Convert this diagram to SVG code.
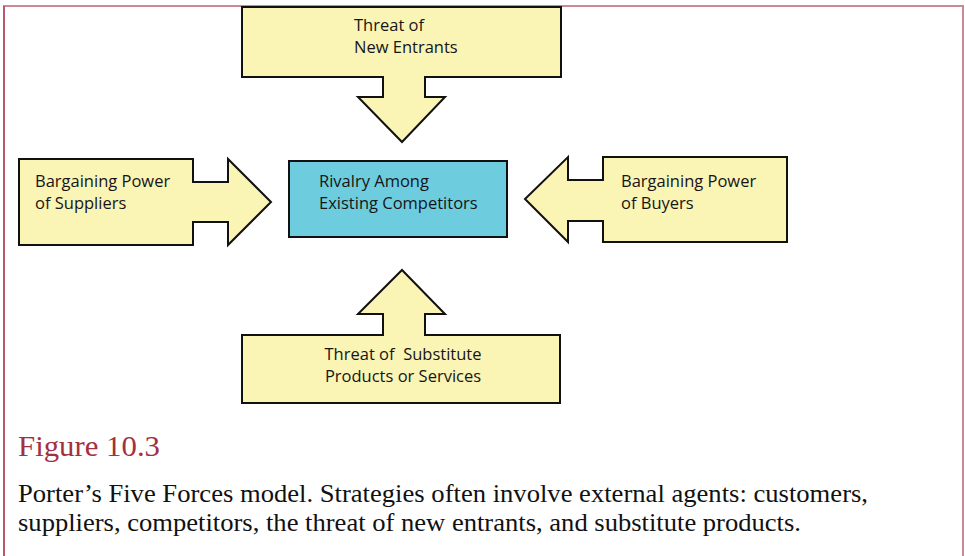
<svg xmlns="http://www.w3.org/2000/svg" width="965" height="556" viewBox="0 0 965 556">
  <style>
    .force { fill: #FAF4B5; stroke: #111; stroke-width: 2; stroke-linejoin: miter; }
    .core { fill: #6DCDDF; stroke: #111; stroke-width: 2; }
    .lbl { font-family: "Open Sans", "Liberation Sans", sans-serif; font-size: 16.5px; fill: #161616; }
    .title { font-family: "Liberation Serif", "Times New Roman", serif; font-size: 30px; fill: #A3303F; }
    .cap { font-family: "Liberation Serif", "Times New Roman", serif; font-size: 26px; fill: #111; }
  </style>

  <rect width="965" height="556" fill="#ffffff"/>
  <!-- page frame -->
  <path d="M4,556 V6 H963 V556" fill="none" stroke="#C98A94" stroke-width="2"/>
  <path d="M4,556 V6" fill="none" stroke="#B5485C" stroke-width="1.5"/>

  <!-- central node -->
  <g id="rivalry">
    <rect class="core" x="289" y="161" width="218" height="76"/>
    <text class="lbl" x="319" y="187">Rivalry Among</text>
    <text class="lbl" x="319" y="209">Existing Competitors</text>
  </g>

  <!-- force arrows pointing at the centre -->
  <g id="connectors">
    <g id="new-entrants">
      <path class="force" d="M242,7 H561 V77 H425 V97 H445 L402,142 L358,97 H383 V77 H242 Z"/>
      <text class="lbl" x="354" y="31">Threat of</text>
      <text class="lbl" x="354" y="53">New Entrants</text>
    </g>
    <g id="suppliers">
      <path class="force" d="M19,159 H193 V182 H228 V159 L271,202 L228,245 V222 H193 V245 H19 Z"/>
      <text class="lbl" x="35" y="187">Bargaining Power</text>
      <text class="lbl" x="35" y="209">of Suppliers</text>
    </g>
    <g id="buyers">
      <path class="force" d="M787,157 H603 V180 H568 V157 L525,199 L568,242 V221 H603 V242 H787 Z"/>
      <text class="lbl" x="621" y="187">Bargaining Power</text>
      <text class="lbl" x="621" y="209">of Buyers</text>
    </g>
    <g id="substitutes">
      <path class="force" d="M242,403 H560 V335 H425 V314 H445 L402,270 L358,314 H383 V335 H242 Z"/>
      <text class="lbl" x="403" y="360" text-anchor="middle" xml:space="preserve">Threat of  Substitute</text>
      <text class="lbl" x="403" y="382" text-anchor="middle">Products or Services</text>
    </g>
  </g>

  <!-- caption -->
  <text class="title" x="18" y="456" textLength="142" lengthAdjust="spacingAndGlyphs">Figure 10.3</text>
  <text class="cap" x="18" y="502" textLength="850" lengthAdjust="spacingAndGlyphs">Porter’s Five Forces model. Strategies often involve external agents: customers,</text>
  <text class="cap" x="18" y="531" textLength="783" lengthAdjust="spacingAndGlyphs">suppliers, competitors, the threat of new entrants, and substitute products.</text>
</svg>
